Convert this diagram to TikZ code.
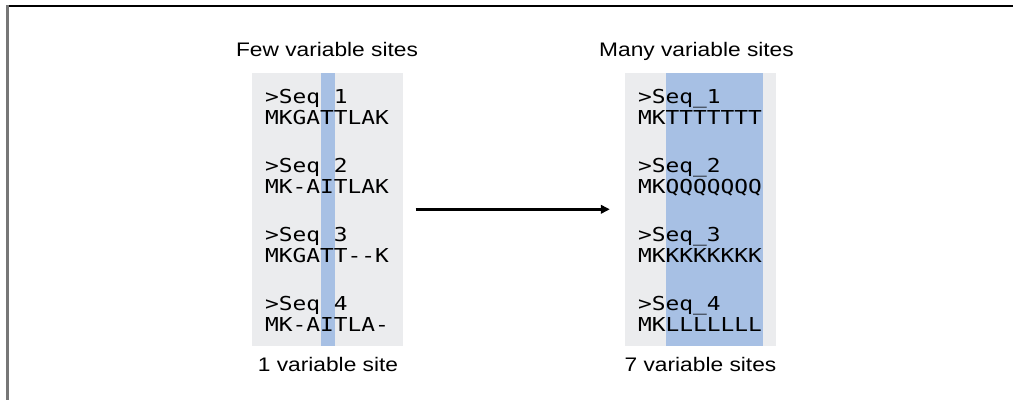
\documentclass[tikz,border=0pt]{standalone}
\usepackage{fontspec}
\setmainfont{Liberation Sans}[FakeStretch=1.16]
\newfontfamily\seqfont{DejaVu Sans Mono}[FakeStretch=1.19]
\usetikzlibrary{arrows.meta}
\definecolor{panelgray}{HTML}{EBECEE}
\definecolor{siteblue}{HTML}{A7C0E4}
\definecolor{framegray}{HTML}{777777}

\tikzset{
  panel/.style={fill=panelgray, draw=none, inner sep=0pt,
                minimum width=151pt, minimum height=272.5pt},
  sitecol/.style={fill=siteblue, draw=none, inner sep=0pt, minimum height=272.5pt},
  seq/.style={anchor=base west, inner sep=0pt, font=\seqfont\fontsize{19.2}{21.5}\selectfont},
  caption/.style={anchor=base, inner sep=0pt, font=\fontsize{19.6}{22}\selectfont},
  flow/.style={line width=2.4pt, -{Triangle[length=9pt,width=8.5pt]}}
}

\begin{document}
\begin{tikzpicture}[x=1pt,y=-1pt]
\useasboundingbox (0,0) rectangle (1013,400);
\fill[white] (0,0) rectangle (1013,400);

% frame edges
\draw[black, line width=2pt] (6.5,6) -- (1013,6);
\draw[framegray, line width=2.5pt] (7.5,5) -- (7.5,400);

% alignment panels
\node[panel] (left) at (327.5,209.3) {};
\node[panel] (right) at (700.5,209.3) {};
\node[sitecol, minimum width=14pt] (leftsite) at (328,209.3) {};
\node[sitecol, minimum width=97pt] (rightsite) at (714.5,209.3) {};

% titles
\node[caption] (ltitle) at (327,56.7) {Few variable sites};
\node[caption] (rtitle) at (696.5,56.7) {Many variable sites};

% left alignment
\node[seq] (l1h) at (265,103) {>Seq 1};
\node[seq] (l1s) at (265,124.5) {MKGATTLAK};
\node[seq] (l2h) at (265,172) {>Seq 2};
\node[seq] (l2s) at (265,193.5) {MK-AITLAK};
\node[seq] (l3h) at (265,241) {>Seq 3};
\node[seq] (l3s) at (265,262.5) {MKGATT--K};
\node[seq] (l4h) at (265,310) {>Seq 4};
\node[seq] (l4s) at (265,331.5) {MK-AITLA-};

% right alignment
\node[seq] (r1h) at (638,103) {>Seq\_1};
\node[seq] (r1s) at (638,124.5) {MKTTTTTTT};
\node[seq] (r2h) at (638,172) {>Seq\_2};
\node[seq] (r2s) at (638,193.5) {MKQQQQQQQ};
\node[seq] (r3h) at (638,241) {>Seq\_3};
\node[seq] (r3s) at (638,262.5) {MKKKKKKKK};
\node[seq] (r4h) at (638,310) {>Seq\_4};
\node[seq] (r4s) at (638,331.5) {MKLLLLLLL};

% counts
\node[caption] (lcount) at (328,371.7) {1 variable site};
\node[caption] (rcount) at (700.5,371.7) {7 variable sites};

% transition arrow
\draw[flow, shorten <=12.5pt, shorten >=15pt] (left.east) -- (right.west);
\end{tikzpicture}
\end{document}
